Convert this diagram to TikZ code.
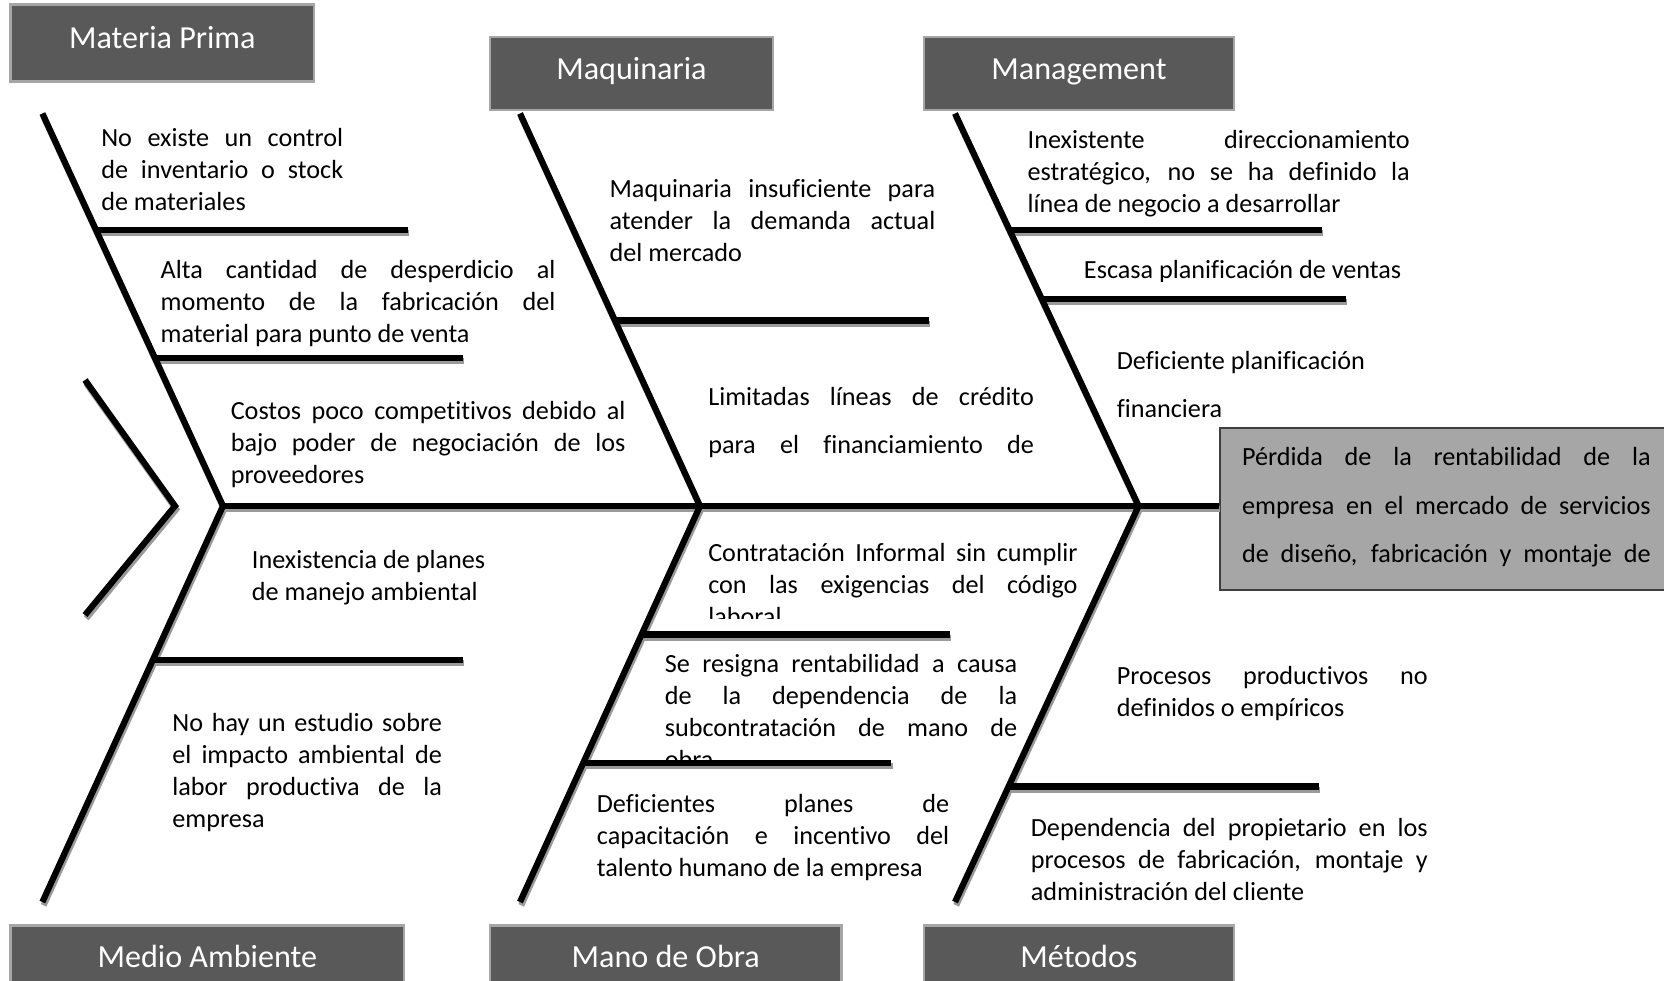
\documentclass[tikz,border=0pt]{standalone}
\usepackage{fontspec}
\setmainfont{Carlito}[Ligatures={NoCommon,NoContextual}, RawFeature={-liga;-clig;-dlig}]
\usetikzlibrary{calc}
\definecolor{lblfill}{HTML}{595959}
\definecolor{lblborder}{HTML}{A6A6A6}
\definecolor{efffill}{HTML}{A6A6A6}
\definecolor{effborder}{HTML}{3F3F3F}
\definecolor{shadowgray}{HTML}{9A9A9A}
\newcommand{\jl}[2]{\makebox[#1][s]{#2}}
\newcommand{\fs}{\rule{0pt}{10pt}}
\newcommand{\fishlines}[1]{%
  \draw[#1] (J1) -- (J1 -| eff.west);
  \draw[#1] (T1) -- (J1) -- (B1);
  \draw[#1] (T2) -- (J2) -- (B2);
  \draw[#1] (T3) -- (J3) -- (B3);
  \draw[#1] (C1) -- (C2) -- (C3);
  \draw[#1] (s1) -- (s1 -| s1e);
  \draw[#1] (s2) -- (s2 -| s2e);
  \draw[#1] (s3) -- (s3 -| s3e);
  \draw[#1] (s4) -- (s4 -| s4e);
  \draw[#1] (s5) -- (s5 -| s5e);
  \draw[#1] (s6) -- (s6 -| s6e);
  \draw[#1] (s7) -- (s7 -| s7e);
  \draw[#1] (s8) -- (s8 -| s8e);
  \draw[#1] (s9) -- (s9 -| s9e);
}
\begin{document}
\begin{tikzpicture}[x=0.42pt, y=-0.42pt,
  bone/.style={line width=2.6pt, draw=black},
  shadowline/.style={line width=2.6pt, draw=shadowgray},
  lbl/.style={draw=lblborder, line width=1.2pt, fill=lblfill, text=white,
    font=\fontsize{13.5}{16}\selectfont, inner sep=0pt, text height=9pt, text depth=4pt},
  effbox/.style={draw=effborder, line width=1pt, fill=efffill, inner sep=0pt},
  txt/.style={anchor=north west, yshift=10pt, inner sep=0pt, align=left,
    font=\fontsize{11}{13.44}\selectfont},
  txtw/.style={txt, font=\fontsize{11}{20.4}\selectfont}]
\useasboundingbox (0,0) rectangle (1664,981);
\clip (0,0) rectangle (1664,981);

% skeleton points
\coordinate (T1) at (42.4,113.5);
\coordinate (J1) at (223,506);
\coordinate (B1) at (42.4,902);
\coordinate (T2) at (520,113.5);
\coordinate (J2) at (700,506);
\coordinate (B2) at (520,902);
\coordinate (T3) at (955,113.5);
\coordinate (J3) at (1138.6,506);
\coordinate (B3) at (955,902);
\coordinate (C1) at (85,380);
\coordinate (C2) at (175,506);
\coordinate (C3) at (85,615);

% sub-branch starts on the bones and their ends
\coordinate (s1) at ($(T1)!0.2968!(J1)$);  \coordinate (s1e) at (407.5,230);
\coordinate (s2) at ($(T1)!0.6219!(J1)$);  \coordinate (s2e) at (462.7,357.6);
\coordinate (s3) at ($(T2)!0.5274!(J2)$);  \coordinate (s3e) at (928.5,320.5);
\coordinate (s4) at ($(T3)!0.2968!(J3)$);  \coordinate (s4e) at (1322,230);
\coordinate (s5) at ($(T3)!0.4726!(J3)$);  \coordinate (s5e) at (1345.6,299);
\coordinate (s6) at ($(J1)!0.3889!(B1)$);  \coordinate (s6e) at (462.7,660);
\coordinate (s7) at ($(J2)!0.3247!(B2)$);  \coordinate (s7e) at (950,634.6);
\coordinate (s8) at ($(J2)!0.6490!(B2)$);  \coordinate (s8e) at (891.4,763);
\coordinate (s9) at ($(J3)!0.7081!(B3)$);  \coordinate (s9e) at (1319,786.4);

% effect box
\node[effbox, minimum width=197.4pt, minimum height=68pt] (eff) at (1455,509) {};

% lines with shadow
\begin{scope}[transform canvas={xshift=0.5pt, yshift=-1.4pt}]
  \fishlines{shadowline}
\end{scope}
\fishlines{bone}

% category labels
\node[lbl, minimum width=127.4pt, minimum height=32.1pt] (lmp) at (162.3,43) {Materia Prima};
\node[lbl, minimum width=118.9pt, minimum height=30.7pt] (lmq) at (631.5,73.5) {Maquinaria};
\node[lbl, minimum width=130.2pt, minimum height=30.7pt] (lmg) at (1079,73.5) {Management};
\node[lbl, minimum width=165.2pt, minimum height=30.7pt] (lma) at (207.3,962) {Medio Ambiente};
\node[lbl, minimum width=147.6pt, minimum height=30.7pt] (lmo) at (665.75,962) {Mano de Obra};
\node[lbl, minimum width=130.2pt, minimum height=30.7pt] (lme) at (1079,962) {Métodos};

% effect text
\node[txtw] (efft) at (1241.6,465) {\fs\jl{171.6pt}{Pérdida de la rentabilidad de la}\\
  \jl{171.6pt}{empresa en el mercado de servicios}\\
  \jl{171.6pt}{de diseño, fabricación y montaje de}};

% Materia Prima causes
\node[txt] (c1) at (100.8,145.9) {\fs\jl{101.6pt}{No existe un control}\\
  \jl{101.6pt}{de inventario o stock}\\de materiales};
\node[txt] (c2) at (160.2,278.5) {\fs\jl{165.8pt}{Alta cantidad de desperdicio al}\\
  \jl{165.8pt}{momento de la fabricación del}\\material para punto de venta};
\node[txt] (c3) at (230.3,418.6) {\fs\jl{165.8pt}{Costos poco competitivos debido al}\\
  \jl{165.8pt}{bajo poder de negociación de los}\\proveedores};

% Maquinaria causes
\node[txt] (c4) at (609.1,196.8) {\fs\jl{136.8pt}{Maquinaria insuficiente para}\\
  \jl{136.8pt}{atender la demanda actual}\\del mercado};
\node[txtw] (c5) at (707.8,404.8) {\fs\jl{136.8pt}{Limitadas líneas de crédito}\\
  \jl{136.8pt}{para el financiamiento de}};

% Management causes
\node[txt] (c6) at (1027.2,148) {\fs\jl{160.5pt}{Inexistente direccionamiento}\\
  \jl{160.5pt}{estratégico, no se ha definido la}\\línea de negocio a desarrollar};
\begin{scope}
  \clip (1000,240) rectangle (1450,281);
  \node[txt] (c7) at (1083.5,278.5) {\fs Escasa planificación de ventas};
\end{scope}
\node[txtw] (c8) at (1116.4,368.7) {\fs Deficiente planificación\\financiera};

% Medio Ambiente causes
\node[txt] (c9) at (251.5,568.3) {\fs Inexistencia de planes\\de manejo ambiental};
\node[txt] (c10) at (171.9,730.6) {\fs\jl{113.2pt}{No hay un estudio sobre}\\
  \jl{113.2pt}{el impacto ambiental de}\\
  \jl{113.2pt}{labor productiva de la}\\empresa};

% Mano de Obra causes
\begin{scope}
  \clip (690,520) rectangle (1100,618);
  \node[txt] (c11) at (707.8,560.8) {\fs\jl{155.1pt}{Contratación Informal sin cumplir}\\
    \jl{155.1pt}{con las exigencias del código}\\laboral};
\end{scope}
\begin{scope}
  \clip (640,640) rectangle (1030,760);
  \node[txt] (c12) at (664.3,672.3) {\fs\jl{148pt}{Se resigna rentabilidad a causa}\\
    \jl{148pt}{de la dependencia de la}\\
    \jl{148pt}{subcontratación de mano de}\\obra};
\end{scope}
\node[txt] (c13) at (596.4,812.3) {\fs\jl{148pt}{Deficientes planes de}\\
  \jl{148pt}{capacitación e incentivo del}\\talento humano de la empresa};

% Métodos causes
\node[txt] (c14) at (1116.4,683.9) {\fs\jl{130.6pt}{Procesos productivos no}\\definidos o empíricos};
\node[txt] (c15) at (1030.4,835.7) {\fs\jl{166.7pt}{Dependencia del propietario en los}\\
  \jl{166.7pt}{procesos de fabricación, montaje y}\\administración del cliente};
\end{tikzpicture}
\end{document}
